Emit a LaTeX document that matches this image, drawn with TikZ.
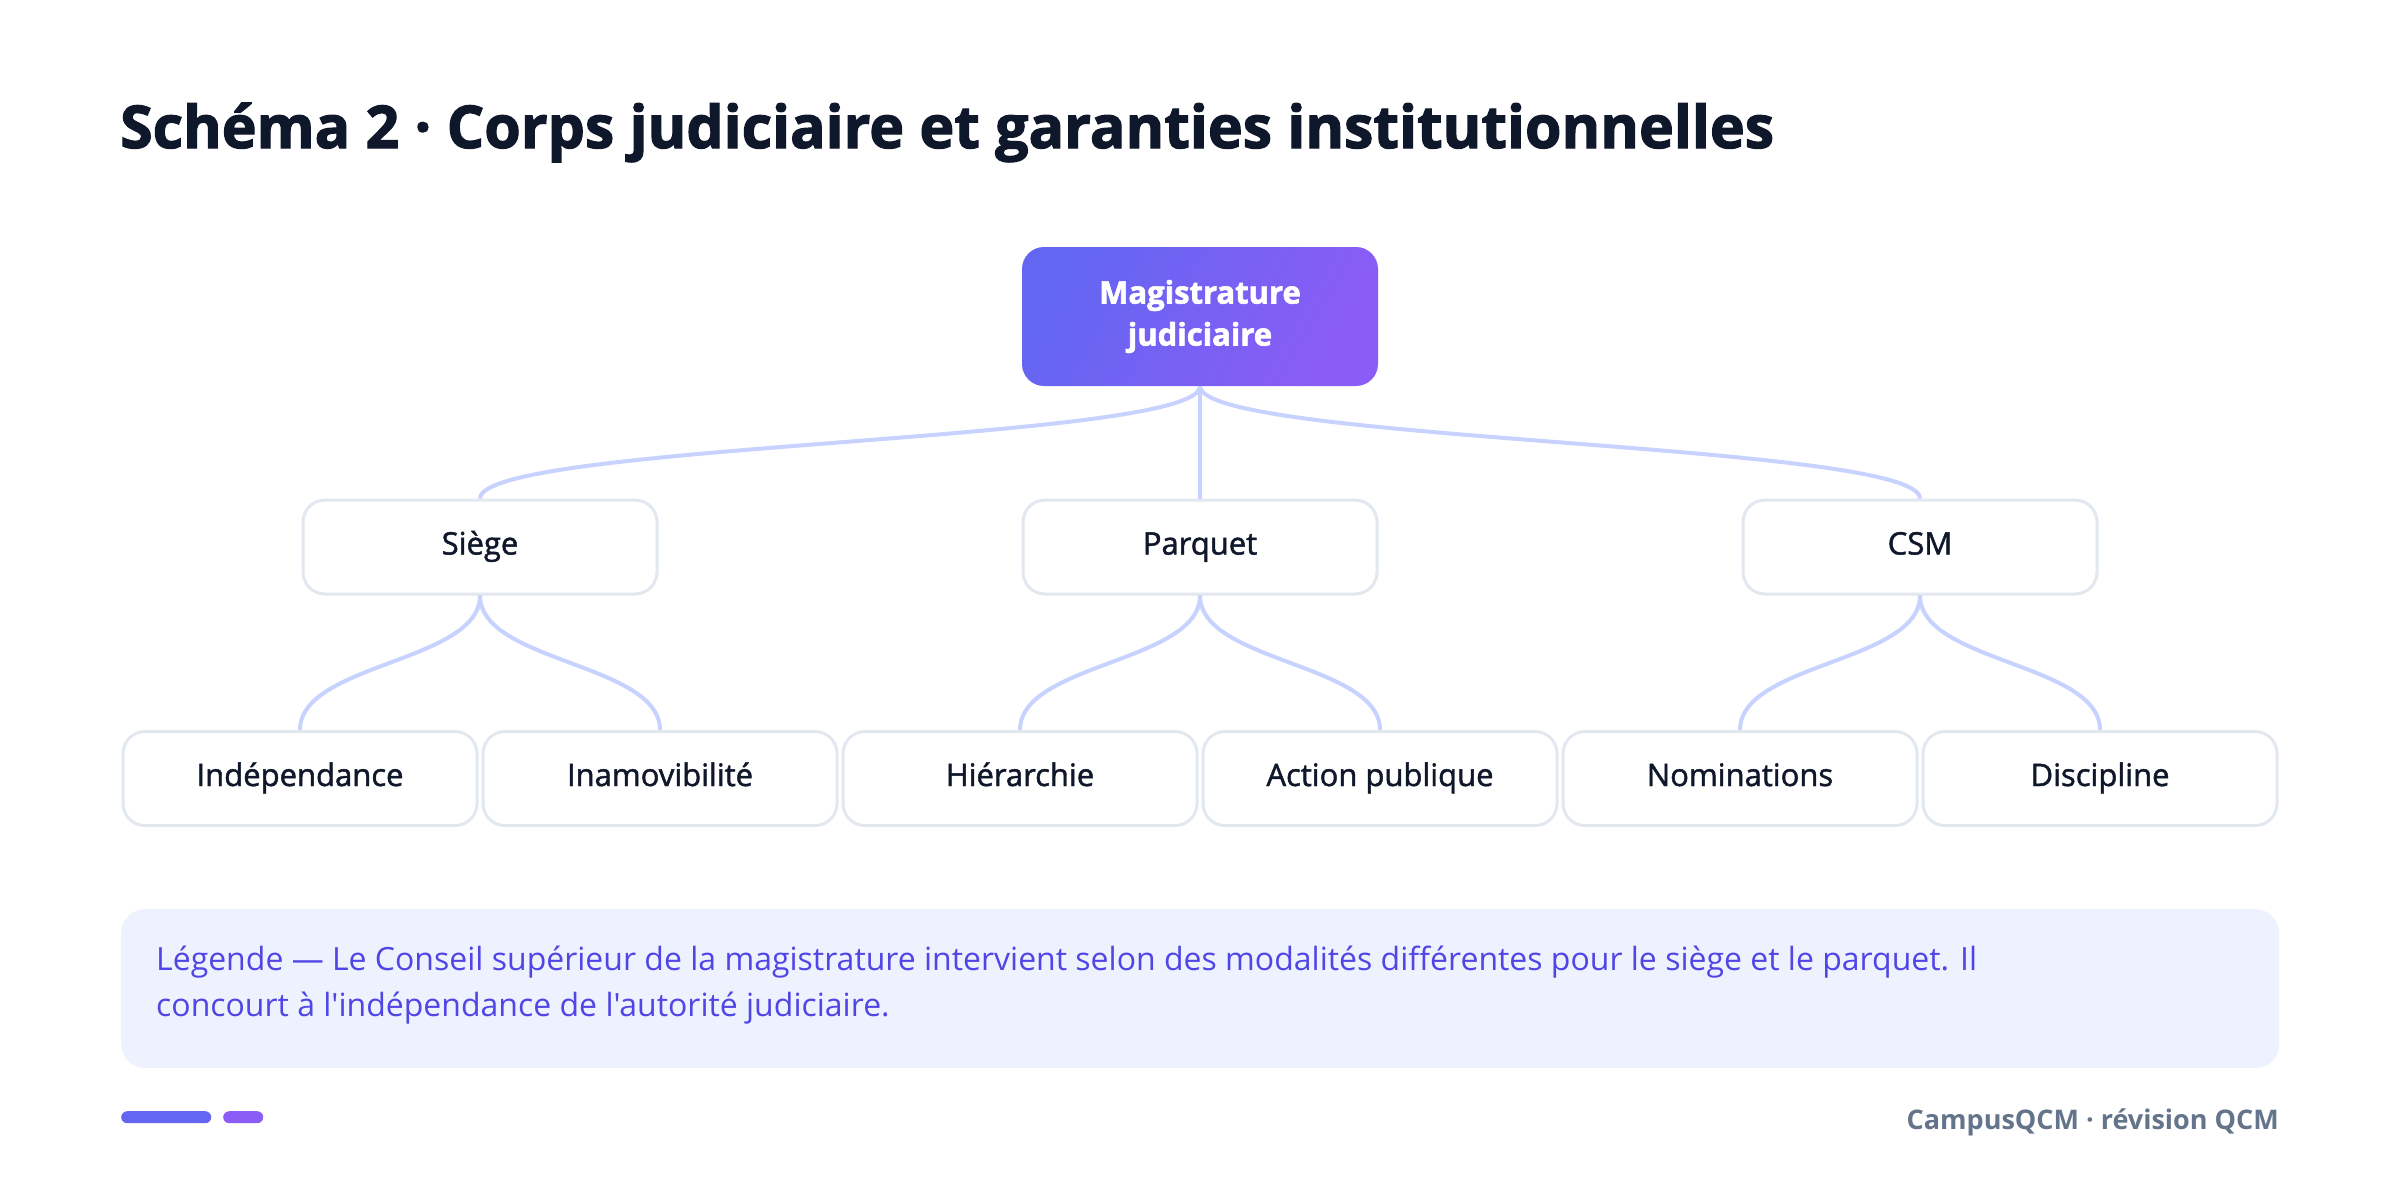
\documentclass[tikz,border=0pt]{standalone}
\usepackage{fontspec}
\setmainfont{Open Sans}[Ligatures=TeXOff]
\newfontfamily\titlefont{Open Sans}[Ligatures=TeXOff, BoldFeatures={FakeBold=2}]
\newfontfamily\semifont{Open Sans}[Ligatures=TeXOff, FakeBold=1.5]
\definecolor{ink}{HTML}{0F172A}
\definecolor{indA}{HTML}{6366F1}
\definecolor{vioB}{HTML}{8B5CF6}
\definecolor{edgec}{HTML}{C7D2FE}
\definecolor{boxborder}{HTML}{E2E8F0}
\definecolor{legbg}{HTML}{EEF2FF}
\definecolor{legtxt}{HTML}{4F46E5}
\definecolor{foot}{HTML}{64748B}
\tikzset{
  rootbox/.style={rounded corners=22pt, minimum width=356pt, minimum height=139pt,
    left color=indA, right color=vioB, shading angle=60, draw=none,
    text=white, align=center, font=\titlefont\bfseries\fontsize{31}{42}\selectfont},
  midbox/.style={rounded corners=22pt, minimum width=354pt, minimum height=94pt,
    draw=boxborder, line width=3pt, fill=white, text=ink, text height=22pt, text depth=7pt,
    font=\semifont\fontsize{31}{36}\selectfont},
  leafbox/.style={midbox},
  conn/.style={draw=edgec, line width=4pt},
}
\begin{document}
\begin{tikzpicture}[x=1pt,y=-1pt]
\useasboundingbox (0,0) rectangle (2400,1178);
\fill[white] (0,0) rectangle (2400,1178);
% title
\node[anchor=base west, inner sep=0, text=ink, font=\titlefont\bfseries\fontsize{59}{66}\selectfont] (title) at (120,148) {Schéma 2 · Corps judiciaire et garanties institutionnelles};
% root
\node[rootbox] (root) at (1200,316.5) {Magistrature\\judiciaire};
% middle
\node[midbox] (siege) at (480,547) {Siège};
\node[midbox] (parquet) at (1200,547) {Parquet};
\node[midbox] (csm) at (1920,547) {CSM};
% leaves
\node[leafbox] (l1) at (300,778.5) {Indépendance};
\node[leafbox] (l2) at (660,778.5) {Inamovibilité};
\node[leafbox] (l3) at (1020,778.5) {Hiérarchie};
\node[leafbox] (l4) at (1380,778.5) {Action publique};
\node[leafbox] (l5) at (1740,778.5) {Nominations};
\node[leafbox] (l6) at (2100,778.5) {Discipline};
% connectors
\draw[conn] (root.south) .. controls +(0,56) and +(0,-56) .. (siege.north);
\draw[conn] (root.south) -- (parquet.north);
\draw[conn] (root.south) .. controls +(0,56) and +(0,-56) .. (csm.north);
\draw[conn] (siege.south) .. controls +(0,67) and +(0,-67) .. (l1.north);
\draw[conn] (siege.south) .. controls +(0,67) and +(0,-67) .. (l2.north);
\draw[conn] (parquet.south) .. controls +(0,67) and +(0,-67) .. (l3.north);
\draw[conn] (parquet.south) .. controls +(0,67) and +(0,-67) .. (l4.north);
\draw[conn] (csm.south) .. controls +(0,67) and +(0,-67) .. (l5.north);
\draw[conn] (csm.south) .. controls +(0,67) and +(0,-67) .. (l6.north);
% legend
\node[fill=legbg, rounded corners=24pt, minimum width=2158pt, minimum height=159pt, anchor=north west, inner sep=0] (legend) at (121,909) {};
\node[anchor=base west, inner sep=0, text=legtxt, font=\fontsize{32}{46}\selectfont] (leg1) at (156,970) {Légende — Le Conseil supérieur de la magistrature intervient selon des modalités différentes pour le siège et le parquet. Il};
\node[anchor=base west, inner sep=0, text=legtxt, font=\fontsize{32}{46}\selectfont] (leg2) at (156,1016) {concourt à l'indépendance de l'autorité judiciaire.};
% footer
\node[fill=indA, rounded corners=6pt, minimum width=90pt, minimum height=12pt, inner sep=0, anchor=north west] (bar1) at (121,1111) {};
\node[fill=vioB, rounded corners=6pt, minimum width=40pt, minimum height=12pt, inner sep=0, anchor=north west] (bar2) at (223,1111) {};
\node[anchor=base east, inner sep=0, text=foot, font=\bfseries\fontsize{27}{34}\selectfont] (footer) at (2279,1129) {CampusQCM · révision QCM};
\end{tikzpicture}
\end{document}
